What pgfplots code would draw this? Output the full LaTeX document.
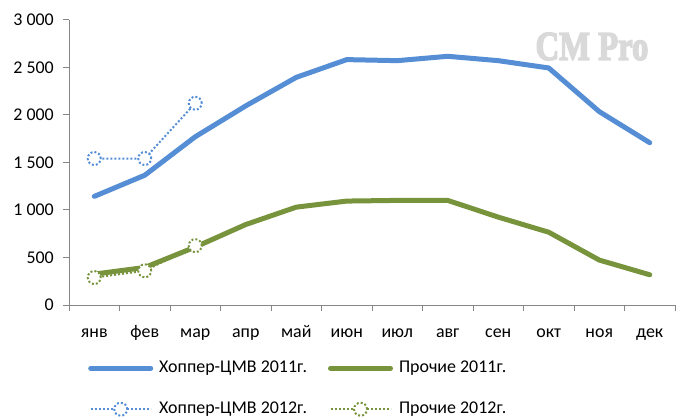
\documentclass[border=0pt]{standalone}
\usepackage{fontspec}
\setmainfont{Carlito}
\newfontfamily\wmfont[FakeBold=4]{Liberation Serif}
\usepackage{pgfplots}
\pgfplotsset{compat=1.18}
\definecolor{cblue}{HTML}{558ED5}
\definecolor{cgreen}{HTML}{77933C}
\definecolor{axgray}{HTML}{868686}
\definecolor{wmgray}{HTML}{D9D9D9}
\begin{document}
\begin{tikzpicture}
\path[use as bounding box] (0,0) rectangle (676bp,418bp);
\node[text=wmgray, inner sep=0pt, font=\wmfont\bfseries\fontsize{41}{41}\selectfont] at (592bp,371.5bp) {\scalebox{0.8}[1]{CM Pro}};
\begin{axis}[
 at={(69bp,113bp)}, anchor=south west,
 scale only axis, width=606bp, height=285bp,
 xmin=-0.5, xmax=11.5, ymin=0, ymax=3000,
 axis x line*=bottom, axis y line*=left,
 axis line style={draw=axgray, line width=1bp, -},
 xtick={-0.5,0.5,...,11.5},
 x tick label as interval,
 xticklabels={янв,фев,мар,апр,май,июн,июл,авг,сен,окт,ноя,дек},
 ytick={0,500,...,3000},
 tick align=outside,
 major tick length=6bp,
 tick style={draw=axgray, line width=1bp},
 /pgf/number format/1000 sep={\ },
 /pgf/number format/assume math mode=true,
 ticklabel style={font=\fontsize{18}{21}\selectfont},
 xticklabel style={anchor=north, inner sep=0pt, text height=12bp, text depth=4bp, yshift=-14bp},
 yticklabel style={anchor=east, inner sep=0pt, xshift=-9bp},
 legend columns=2,
 legend cell align=left,
 legend style={at={(0.0314,-0.193)}, anchor=north west, draw=none, fill=none, inner sep=0pt,
   font=\fontsize{18}{21}\selectfont, row sep=25bp,
   nodes={inner sep=0pt, text height=12bp, text depth=4bp},
   /tikz/every odd column/.append style={column sep=6bp},
   /tikz/every even column/.append style={column sep=21bp}},
 legend image code/.code={\draw[mark repeat=2, mark phase=2, #1] plot coordinates {(0bp,0bp) (30bp,0bp) (60bp,0bp)};},
]
\addplot[cblue, line width=5bp, line join=round, line cap=round, mark=none] coordinates {
(0,1143) (1,1366) (2,1771) (3,2096) (4,2396) (5,2583) (6,2572) (7,2618) (8,2572) (9,2495) (10,2036) (11,1708)};
\addlegendentry{Хоппер-ЦМВ 2011г.}
\addplot[cgreen, line width=5bp, line join=round, line cap=round, mark=none] coordinates {
(0,325) (1,395) (2,610) (3,847) (4,1030) (5,1094) (6,1101) (7,1101) (8,925) (9,766) (10,473) (11,318)};
\addlegendentry{Прочие 2011г.}
\addplot[cblue, line width=2bp, dash pattern=on 2bp off 2bp, mark=*, mark size=6.5bp,
  mark options={solid, dash pattern=on 2bp off 2bp, fill=white, draw=cblue, line width=2bp}] coordinates {
(0,1542) (1,1542) (2,2124)};
\addlegendentry{Хоппер-ЦМВ 2012г.}
\addplot[cgreen, line width=2bp, dash pattern=on 2bp off 2bp, mark=*, mark size=6.5bp,
  mark options={solid, dash pattern=on 2bp off 2bp, fill=white, draw=cgreen, line width=2bp}] coordinates {
(0,289) (1,360) (2,625)};
\addlegendentry{Прочие 2012г.}
\end{axis}
\end{tikzpicture}
\end{document}
